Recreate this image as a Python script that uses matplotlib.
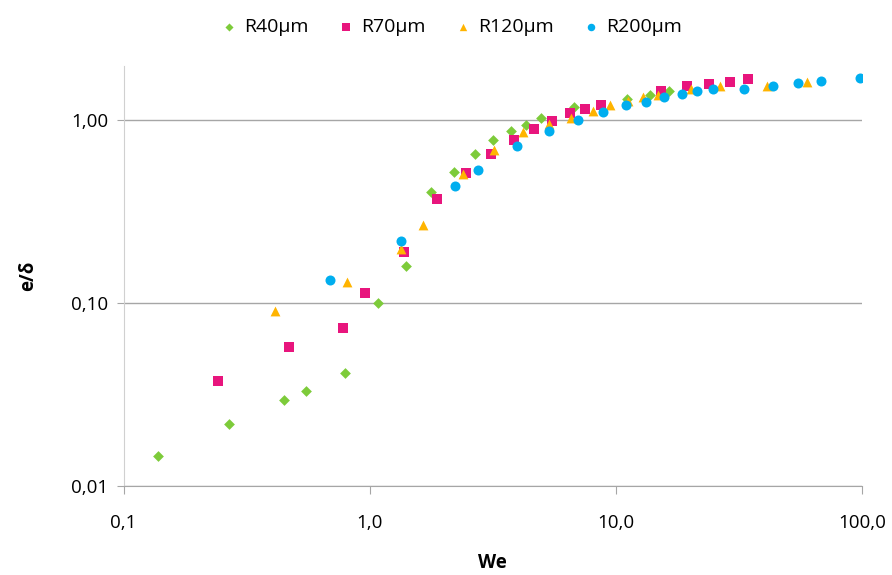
import matplotlib
matplotlib.use("Agg")
import matplotlib.pyplot as plt
from matplotlib.ticker import FixedLocator, NullLocator

plt.rcParams['font.family'] = ['Open Sans', 'DejaVu Sans']

# ---- data (We, e/delta) ----
we_40 = [0.138, 0.269, 0.447, 0.551, 0.795, 1.08, 1.41, 1.77, 2.21, 2.68,
         3.16, 3.75, 4.31, 4.97, 6.74, 11.1, 13.8, 16.5]
ed_40 = [0.0145, 0.0217, 0.0296, 0.0331, 0.0415, 0.100, 0.160, 0.403, 0.516, 0.647,
         0.775, 0.867, 0.942, 1.03, 1.18, 1.30, 1.37, 1.43]

we_70 = [0.241, 0.471, 0.778, 0.961, 1.38, 1.88, 2.46, 3.12, 3.84, 4.65,
         5.52, 6.54, 7.52, 8.71, 15.3, 19.4, 23.8, 29.0, 34.5]
ed_70 = [0.0375, 0.0575, 0.0733, 0.114, 0.190, 0.369, 0.512, 0.650, 0.778, 0.893,
         0.99, 1.09, 1.15, 1.21, 1.43, 1.53, 1.57, 1.62, 1.67]

we_120 = [0.414, 0.808, 1.34, 1.65, 2.39, 3.21, 4.21, 5.37, 6.58, 8.05,
          9.51, 11.2, 12.9, 14.9, 20.1, 26.5, 41.0, 59.6]
ed_120 = [0.0908, 0.130, 0.197, 0.265, 0.507, 0.686, 0.853, 0.955, 1.03, 1.12,
          1.21, 1.27, 1.33, 1.37, 1.48, 1.53, 1.53, 1.60]

we_200 = [0.687, 1.34, 2.23, 2.76, 3.95, 5.37, 7.0, 8.9, 11.0, 13.2,
          15.7, 18.5, 21.4, 24.7, 33.2, 43.5, 55.1, 67.9, 98.0]
ed_200 = [0.133, 0.219, 0.433, 0.534, 0.721, 0.874, 1.0, 1.11, 1.20, 1.25,
          1.33, 1.39, 1.44, 1.48, 1.48, 1.53, 1.58, 1.64, 1.69]

x_ticks = [0.1, 1, 10, 100]
x_labels = ['0,1', '1,0', '10,0', '100,0']
y_ticks = [0.01, 0.1, 1]
y_labels = ['0,01', '0,10', '1,00']

fig = plt.figure(figsize=(8.92, 5.75), dpi=100)
ax = fig.add_axes([0.1385, 0.1548, 0.8279, 0.7305])

ax.scatter(we_40, ed_40, marker='D', s=30, color='#7DCB3A', label='R40µm', zorder=3, linewidths=0)
ax.scatter(we_70, ed_70, marker='s', s=48, color='#E8157D', label='R70µm', zorder=3, linewidths=0)
ax.scatter(we_120, ed_120, marker='^', s=50, color='#FFB400', label='R120µm', zorder=3, linewidths=0)
ax.scatter(we_200, ed_200, marker='o', s=52, color='#00AEEF', label='R200µm', zorder=3, linewidths=0)

ax.set_xscale('log')
ax.set_yscale('log')
ax.set_xlim(0.1, 100)
ax.set_ylim(0.01, 1.97)

ax.xaxis.set_major_locator(FixedLocator(x_ticks))
ax.xaxis.set_minor_locator(NullLocator())
ax.set_xticklabels(x_labels)
ax.yaxis.set_major_locator(FixedLocator(y_ticks))
ax.yaxis.set_minor_locator(NullLocator())
ax.set_yticklabels(y_labels)

ax.grid(axis='y', color='#A6A6A6', linewidth=1.0)
ax.set_axisbelow(True)
for s in ['top', 'right']:
    ax.spines[s].set_visible(False)
ax.spines['left'].set_color('#D0D0D0')
ax.spines['bottom'].set_color('#A6A6A6')
ax.tick_params(axis='x', length=6, color='#A6A6A6', labelsize=13.5, pad=14)
ax.tick_params(axis='y', length=5, color='#A6A6A6', labelsize=13.5, pad=6)

ax.set_xlabel('We', fontsize=13.5, fontweight='bold', labelpad=15)
ax.set_ylabel('e/δ', fontsize=13.5, fontweight='bold', labelpad=24)

ax.legend(loc='upper center', bbox_to_anchor=(0.445, 1.155), ncol=4, frameon=False,
          fontsize=14, handlelength=0.7, handletextpad=0.4, columnspacing=1.6,
          markerscale=0.75)

fig.savefig('out.png', dpi=100)
